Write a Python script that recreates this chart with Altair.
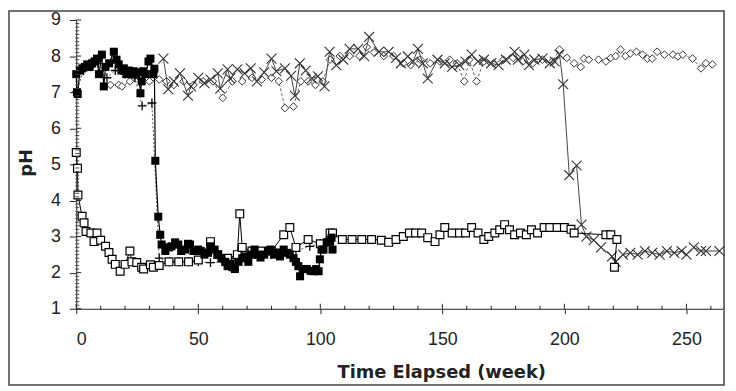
import altair as alt
import pandas as pd

# ---------------- data ----------------
filled_x = [0, 0.3, 0.6, 1.5, 2.5, 3.5, 4.5, 5.5, 6.5, 7.5, 8.5, 9.3, 10.5, 11.3, 12, 13.5, 15.4, 16.5,
            17.4, 18.5, 19.5, 20.5, 21.5, 22.5, 23.5, 24.5, 25.5, 26.3, 26.8, 27.5, 28.4, 29.6, 30.4,
            31.6, 32, 32.4, 33.6, 34.4, 35, 36.5, 38, 39, 40.5, 41.8, 43, 44.6, 45.8, 46.6, 48, 50, 51,
            52.5, 54, 55, 56.7, 58, 59.5, 61, 62, 63, 64, 65, 66.5, 68, 69, 70.5, 72, 73, 74.5, 75.5,
            77, 78.5, 79.5, 81, 82, 83.5, 85, 86.5, 87.5, 89, 90, 91, 91.7, 93, 94.5, 96, 97.3, 98.3,
            99.3, 99.8, 100.5, 101.3, 102.6, 104, 104.6, 105]
filled_y = [7.5, 7.0, 6.95, 7.6, 7.66, 7.7, 7.77, 7.7, 7.8, 7.85, 7.93, 7.5, 8.04, 7.16, 7.7, 7.8, 8.12, 7.9,
            7.77, 7.6, 7.66, 7.5, 7.6, 7.5, 7.58, 7.5, 7.55, 6.97, 7.3, 7.58, 7.5, 7.85, 7.93,
            7.5, 7.65, 5.1, 3.55, 3.05, 2.78, 2.6, 2.7, 2.73, 2.84, 2.78, 2.6, 2.64, 2.8, 2.78, 2.6, 2.64, 2.6,
            2.5, 2.55, 2.73, 2.64, 2.5, 2.4, 2.3, 2.18, 2.25, 2.15, 2.1, 2.3, 2.4, 2.45, 2.3, 2.5, 2.64, 2.5, 2.42,
            2.5, 2.6, 2.64, 2.5, 2.56, 2.45, 2.64, 2.55, 2.5, 2.4, 2.3, 2.18, 1.9, 2.1, 2.1, 2.05, 2.04, 2.1,
            2.04, 2.37, 2.64, 2.64, 2.84, 2.86, 2.97, 2.64]

open_x = [0, 0.5, 0.7, 2.4, 3.2, 4, 6, 7.3, 8.5, 10, 12, 13.4, 14.7, 16, 18, 20, 22, 22.8, 24.8, 26.8, 27.6,
          30.4, 31.6, 34, 38, 42, 46, 50, 55, 58, 62, 66, 67, 68, 72, 76, 80, 85, 87.5, 90, 95, 100, 104,
          105, 109, 113, 117, 121, 125, 128, 131, 134, 136.5, 139, 141.5, 144, 147, 149, 151, 154, 157,
          159.5, 162, 164.6, 167, 169, 171.5, 173.5, 175.5, 177.5, 179.6, 182, 184.4, 186.5, 189, 191.7,
          194, 197, 200, 202.7, 204, 217, 219, 221.5, 220.5]
open_y = [5.33, 4.89, 4.15, 3.56, 3.38, 3.14, 3.1, 2.86, 3.1, 2.9, 2.73, 2.56, 2.37, 2.23, 2.04, 2.23, 2.6, 2.3,
          2.28, 2.15, 2.1, 2.22, 2.15, 2.2, 2.3, 2.3, 2.3, 2.35, 2.86, 2.5, 2.4, 2.5, 3.63, 2.7, 2.6, 2.6, 2.6,
          3.05, 3.25, 2.7, 2.92, 2.8, 3.1, 3.1, 2.92, 2.92, 2.92, 2.92, 2.9, 2.84, 2.92, 3.0, 3.1, 3.1, 3.1,
          2.97, 2.86, 3.05, 3.25, 3.1, 3.1, 3.1, 3.25, 3.1, 2.92, 3.0, 3.1, 3.19, 3.33, 3.19, 3.05, 3.1,
          3.05, 3.19, 3.1, 3.25, 3.25, 3.25, 3.25, 3.2, 3.1, 3.05, 3.05, 2.92, 2.15]

cross_x = [35.7, 37.7, 40, 42.5, 45.8, 47, 50, 52.5, 55, 58, 59, 62, 63, 66, 69, 71.5, 74, 77, 80, 82, 85.5,
           88, 89.6, 91.6, 94, 96.5, 99, 101.7, 103.8, 106.5, 109.4, 112, 115.5, 118, 120, 124, 128, 131,
           133, 135.8, 138, 140, 142, 144, 148, 151, 154, 157, 159.5, 162, 164.6, 167, 170, 173, 176, 179.6,
           181, 183.6, 185.5, 187.7, 191, 194, 196, 198, 199.5, 202, 205, 207, 209, 212, 215, 219.5, 221,
           224, 227, 230, 233, 236, 239, 242, 245, 248, 250, 253, 256, 258, 263.5]
cross_y = [7.93, 7.08, 7.3, 7.52, 6.9, 7.16, 7.4, 7.25, 7.35, 7.52, 7.1, 7.63, 7.38, 7.63, 7.52, 7.66, 7.3,
           7.55, 7.93, 7.58, 7.66, 7.45, 6.9, 7.8, 7.6, 7.38, 7.44, 7.16, 8.12, 7.75, 7.9, 8.2, 8.2, 8.0,
           8.53, 8.12, 8.12, 7.95, 7.8, 7.99, 7.85, 8.2, 7.8, 7.38, 7.9, 7.8, 7.7, 7.75, 7.85, 8.04, 7.85,
           7.9, 7.8, 7.75, 7.9, 8.12, 7.9, 8.04, 7.75, 7.9, 7.93, 7.8, 7.85, 8.04, 7.22, 4.7, 4.97, 3.33,
           3.0, 2.9, 2.7, 2.45, 2.3, 2.5, 2.55, 2.5, 2.6, 2.55, 2.5, 2.6, 2.55, 2.6, 2.5, 2.7, 2.6, 2.6, 2.6]

plus_x = [0, 3, 6, 9, 12.6, 16, 20, 24, 27, 31, 34, 38, 42, 46, 50, 55, 60, 65, 70, 75, 80, 85, 90, 95.7, 100]
plus_y = [7.0, 7.6, 7.7, 7.8, 7.4, 7.6, 7.5, 7.4, 6.62, 6.7, 2.4, 2.3, 2.3, 2.3, 2.3, 2.28, 2.3, 2.4, 2.5,
          2.5, 2.5, 2.6, 2.6, 2.73, 2.8]

diam_x = [14, 17.4, 18.7, 22, 26, 30, 34, 37, 40, 44, 48, 52, 56, 60, 64, 68, 72, 76, 80, 83, 85.5, 89, 92,
          95, 98, 101, 104, 108, 112, 116, 119, 122, 126, 130, 134, 137, 141, 145, 149, 153, 156, 159, 161,
          164, 167, 171, 175, 179, 183, 187, 191, 195, 198, 201, 204, 206.7, 208, 210, 214, 217, 219, 221,
          223, 225, 227, 229.5, 232, 234, 236, 238, 241, 244.5, 246.5, 248.5, 252.5, 256, 258, 260.6]
diam_y = [7.2, 7.2, 7.16, 7.3, 7.4, 7.3, 7.35, 7.3, 7.2, 7.3, 7.2, 7.3, 7.3, 6.84, 7.3, 7.3, 7.4, 7.35, 7.4,
          7.3, 6.56, 6.6, 7.3, 7.3, 7.2, 7.3, 7.9, 8.0, 8.0, 8.0, 8.25, 8.1, 8.0, 8.0, 7.8, 7.75, 7.9, 7.8,
          7.85, 7.9, 7.8, 7.3, 7.9, 7.3, 7.85, 7.8, 7.9, 7.95, 7.85, 7.8, 7.9, 7.85, 8.18, 7.95, 7.8, 7.7,
          7.93, 7.9, 7.9, 7.85, 7.95, 8.0, 8.18, 8.0, 8.07, 8.12, 8.04, 7.93, 7.93, 8.12, 8.04, 8.04, 7.99,
          8.04, 7.93, 7.66, 7.8, 7.77]

x_major = [0, 50, 100, 150, 200, 250]
y_major = [1, 2, 3, 4, 5, 6, 7, 8, 9]
x_minor = [v for v in range(10, 265, 10) if v % 50 != 0]
y_minor = [round(1 + k / 10, 1) for k in range(1, 80) if k % 10 != 0]

# ---------------- layout ----------------
W, H = 654, 292
FONT = "Liberation Sans"
TFONT = "DejaVu Sans"

xs = alt.Scale(domain=[0, 265], nice=False, zero=False)
ys = alt.Scale(domain=[1, 9], nice=False, zero=False)

x_axis = alt.Axis(values=x_major, tickSize=5, tickColor="#222", domainColor="#222", labelFont=FONT,
                  labelFontSize=18, labelColor="#222", labelPadding=17, grid=False,
                  title="Time Elapsed (week)", titleFont=TFONT, titleFontSize=18, titleFontWeight="bold",
                  titleColor="#222", titleX=369, titleY=70, titleAlign="center", titleBaseline="alphabetic")
y_axis = alt.Axis(values=y_major, tickSize=7, tickColor="#222", domainColor="#222", labelFont=FONT,
                  labelFontSize=18, labelColor="#222", labelPadding=9, grid=False,
                  title="pH", titleFont=TFONT, titleFontSize=18, titleFontWeight="bold", titleColor="#222",
                  titleX=-50, titleY=H / 2 - 2, titleAngle=270, titleAlign="center", titleBaseline="middle")


def X(field):
    return alt.X(field, scale=xs, axis=x_axis)


def Y(field):
    return alt.Y(field, scale=ys, axis=y_axis)


def frame(xv, yv):
    return pd.DataFrame({"week": xv, "pH": yv, "i": list(range(len(xv)))})


def enc(ch):
    return ch.encode(x=X("week:Q"), y=Y("pH:Q"), order="i:Q")


def line(df, color="black", width=1.0, dash=None):
    kw = dict(color=color, strokeWidth=width)
    if dash:
        kw["strokeDash"] = dash
    return enc(alt.Chart(df).mark_line(**kw))


d_diam = frame(diam_x, diam_y)
d_cross = frame(cross_x, cross_y)
d_plus = frame(plus_x, plus_y)
d_open = frame(open_x, open_y)
d_fill = frame(filled_x, filled_y)

layers = [
    line(d_diam, color="#666", dash=[3, 2]),
    enc(alt.Chart(d_diam).mark_point(shape="diamond", size=60, fill="white", stroke="#333",
                                      strokeWidth=1, opacity=1)),
    line(d_cross, color="#444", width=1),
    enc(alt.Chart(d_cross).mark_point(shape="M-1,-1L1,1M-1,1L1,-1", size=100, stroke="#333",
                                       strokeWidth=1.1, opacity=1, filled=False)),
    line(d_plus, color="#555", dash=[2, 2]),
    enc(alt.Chart(d_plus).mark_point(shape="M-1,0L1,0M0,-1L0,1", size=80, stroke="black",
                                      strokeWidth=1.3, opacity=1, filled=False)),
    line(d_open, color="black", width=1),
    enc(alt.Chart(d_open).mark_square(size=62, fill="white", stroke="black", strokeWidth=1.2, opacity=1)),
    line(d_fill, color="black", width=1.2),
    enc(alt.Chart(d_fill).mark_square(size=66, color="black", opacity=1)),
]

# axis tick decorations (inward parts of major ticks and minor ticks)
tx_major = alt.Chart(pd.DataFrame({"week": x_major})).mark_rule(color="#222").encode(
    x=X("week:Q"), y=alt.value(H - 5), y2=alt.value(H))
tx_minor = alt.Chart(pd.DataFrame({"week": x_minor})).mark_rule(color="#222").encode(
    x=X("week:Q"), y=alt.value(H - 3), y2=alt.value(H + 1))
ty_major = alt.Chart(pd.DataFrame({"pH": y_major})).mark_rule(color="#222").encode(
    y=Y("pH:Q"), x=alt.value(0), x2=alt.value(5))
ty_minor = alt.Chart(pd.DataFrame({"pH": y_minor})).mark_rule(color="#444").encode(
    y=Y("pH:Q"), x=alt.value(-1), x2=alt.value(3))

border = alt.Chart(pd.DataFrame({"a": [0]})).mark_rect(fill=None, stroke="#444", strokeWidth=1.5).encode(
    x=alt.value(-68), x2=alt.value(655), y=alt.value(-9), y2=alt.value(369))

chart = alt.layer(*layers, tx_major, tx_minor, ty_major, ty_minor, border).properties(
    width=W, height=H,
    autosize=alt.AutoSizeParams(type="none"),
    padding={"left": 69, "top": 10, "right": 5, "bottom": 78},
    background="white",
).configure_view(stroke=None)

chart.save("out.html", embed_options={"renderer": "svg", "actions": False})
